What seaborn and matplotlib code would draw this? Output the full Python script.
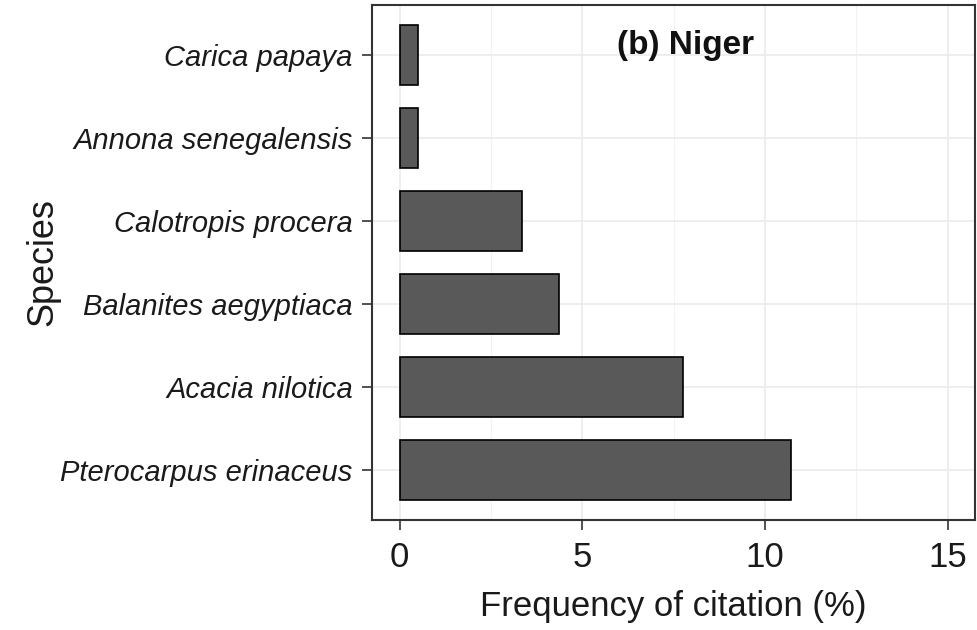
import pandas as pd
import matplotlib.pyplot as plt
import seaborn as sns
from matplotlib.ticker import MultipleLocator

species = ["Carica papaya", "Annona senegalensis", "Calotropis procera",
           "Balanites aegyptiaca", "Acacia nilotica", "Pterocarpus erinaceus"]
frequency = [0.5, 0.5, 3.35, 4.35, 7.75, 10.7]
x_ticks = [0, 5, 10, 15]

data_frame = pd.DataFrame({"species": species, "frequency": frequency})

sns.set_style("white")
plt.rcParams['font.family'] = ['Liberation Sans', 'DejaVu Sans']

fig = plt.figure(figsize=(9.77, 6.3), dpi=100)
ax = fig.add_axes([0.381, 0.175, 0.617, 0.817])

sns.barplot(data=data_frame, x="frequency", y="species", order=species,
            color="#595959", saturation=1, edgecolor="black", linewidth=1.2,
            width=0.72, ax=ax, zorder=3)

ax.set_xlim(-0.75, 15.75)
ax.set_ylim(5.6, -0.6)
ax.set_xticks(x_ticks)
ax.xaxis.set_minor_locator(MultipleLocator(2.5))
ax.grid(True, which="major", color="#EBEBEB", linewidth=1.2, zorder=0)
ax.grid(True, which="minor", axis="x", color="#F2F2F2", linewidth=0.8, zorder=0)
ax.set_axisbelow(True)

for s in ax.spines.values():
    s.set_color("#333333")
    s.set_linewidth(1.5)

ax.tick_params(axis="both", which="major", length=7, width=1.2, color="#333333",
               direction="out", bottom=True, left=True)
ax.tick_params(axis="x", which="minor", length=0, bottom=False)
ax.tick_params(axis="x", labelsize=25, labelcolor="#1a1a1a", pad=8)
ax.tick_params(axis="y", labelsize=21, labelcolor="#1a1a1a", pad=7)
for lab in ax.get_yticklabels():
    lab.set_fontstyle("italic")

ax.set_xlabel("Frequency of citation (%)", fontsize=25, color="#1a1a1a", labelpad=12)
ax.set_ylabel("Species", fontsize=26, color="#1a1a1a", labelpad=0)
ax.text(0.52, 0.905, "(b) Niger", transform=ax.transAxes, ha="center",
        fontsize=24, fontweight="bold", color="#111111")

fig.savefig("out.png", dpi=100)
